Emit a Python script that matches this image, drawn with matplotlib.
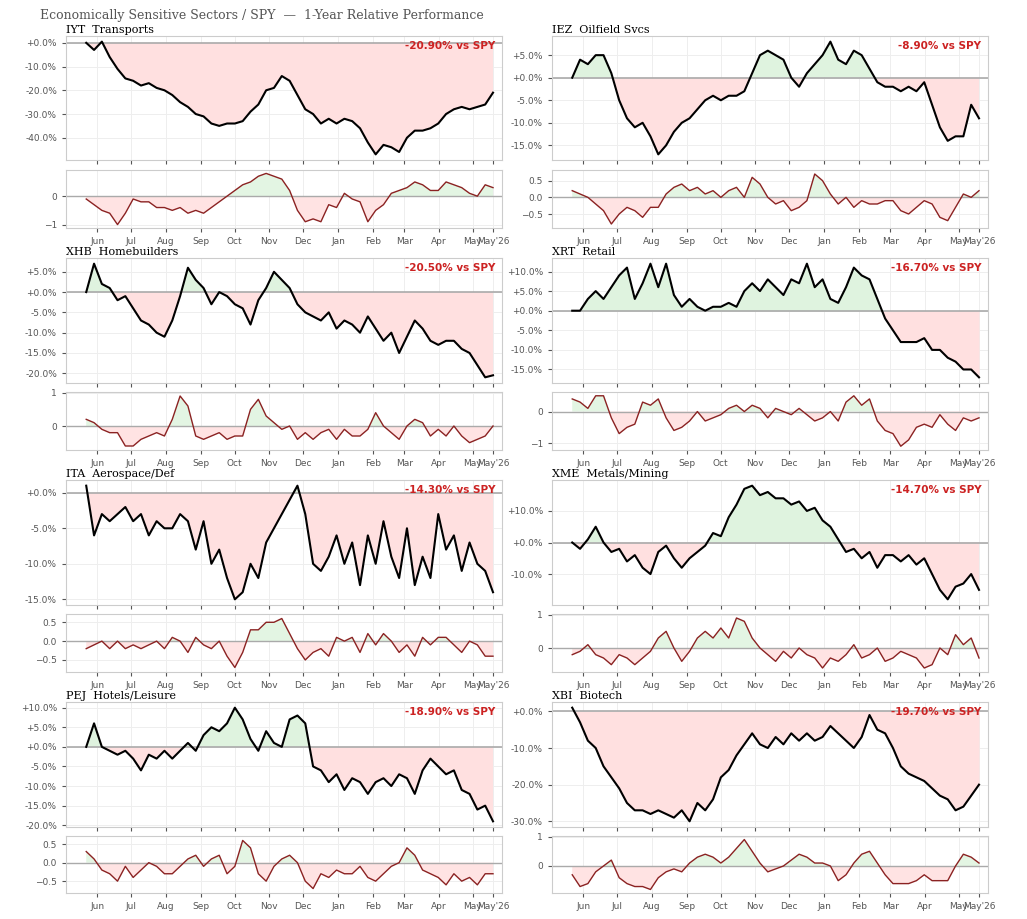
import numpy as np
import pandas as pd
import matplotlib
matplotlib.use('Agg')
import matplotlib.pyplot as plt
from matplotlib.ticker import FuncFormatter, MultipleLocator

dates = pd.date_range('2025-05-22', '2026-05-19', periods=53)

tickers = ['IYT', 'IEZ', 'XHB', 'XRT', 'ITA', 'XME', 'PEJ', 'XBI']
names = ['Transports', 'Oilfield Svcs', 'Homebuilders', 'Retail',
         'Aerospace/Def', 'Metals/Mining', 'Hotels/Leisure', 'Biotech']
final_rel = [-20.9, -8.9, -20.5, -16.7, -14.3, -14.7, -18.9, -19.7]

iyt = [0, -3, 0.5, -6, -11, -15, -16, -18, -17, -19, -20, -22, -25, -27, -30, -31, -34, -35, -34, -34,
       -33, -29, -26, -20, -19, -14, -16, -22, -28, -30, -34, -32, -34, -32, -33, -36, -42, -47, -43, -44,
       -46, -40, -37, -37, -36, -34, -30, -28, -27, -28, -27, -26, -21]
iez = [0, 4, 3, 5, 5, 1, -5, -9, -11, -10, -13, -17, -15, -12, -10, -9, -7, -5, -4, -5,
       -4, -4, -3, 1, 5, 6, 5, 4, 0, -2, 1, 3, 5, 8, 4, 3, 6, 5, 2, -1,
       -2, -2, -3, -2, -3, -1, -6, -11, -14, -13, -13, -6, -9]
xhb = [0, 7, 2, 1, -2, -1, -4, -7, -8, -10, -11, -7, -1, 6, 3, 1, -3, 0, -1, -3,
       -4, -8, -2, 1, 5, 3, 1, -3, -5, -6, -7, -5, -9, -7, -8, -10, -6, -9, -12, -10,
       -15, -11, -7, -9, -12, -13, -12, -12, -14, -15, -18, -21, -20.5]
xrt = [0, 0, 3, 5, 3, 6, 9, 11, 3, 7, 12, 6, 12, 4, 1, 3, 1, 0, 1, 1,
       2, 1, 5, 7, 5, 8, 6, 4, 8, 7, 12, 6, 8, 3, 2, 6, 11, 9, 8, 3,
       -2, -5, -8, -8, -8, -7, -10, -10, -12, -13, -15, -15, -17]
ita = [1, -6, -3, -4, -3, -2, -4, -3, -6, -4, -5, -5, -3, -4, -8, -4, -10, -8, -12, -15,
       -14, -10, -12, -7, -5, -3, -1, 1, -3, -10, -11, -9, -6, -10, -7, -13, -6, -10, -4, -9,
       -12, -5, -13, -9, -12, -3, -8, -6, -11, -7, -10, -11, -14]
xme = [0, -2, 1, 5, 0, -3, -2, -6, -4, -8, -10, -3, -1, -5, -8, -5, -3, -1, 3, 2,
       8, 12, 17, 18, 15, 16, 14, 14, 12, 13, 10, 11, 7, 5, 1, -3, -2, -5, -3, -8,
       -4, -4, -6, -4, -7, -5, -10, -15, -18, -14, -13, -10, -15]
pej = [0, 6, 0, -1, -2, -1, -3, -6, -2, -3, -1, -3, -1, 1, -1, 3, 5, 4, 6, 10,
       7, 2, -1, 4, 1, 0, 7, 8, 6, -5, -6, -9, -7, -11, -8, -9, -12, -9, -8, -10,
       -7, -8, -12, -6, -3, -5, -7, -6, -11, -12, -16, -15, -19]
xbi = [1, -3, -8, -10, -15, -18, -21, -25, -27, -27, -28, -27, -28, -29, -27, -30, -25, -27, -24, -18,
       -16, -12, -9, -6, -9, -10, -7, -9, -6, -8, -6, -8, -7, -4, -6, -8, -10, -7, -1, -5,
       -6, -10, -15, -17, -18, -19, -21, -23, -24, -27, -26, -23, -20]

iyt_osc = [-0.1, -0.3, -0.5, -0.6, -1.0, -0.6, -0.1, -0.2, -0.2, -0.4, -0.4, -0.5, -0.4, -0.6, -0.5, -0.6, -0.4, -0.2, 0.0, 0.2,
           0.4, 0.5, 0.7, 0.8, 0.7, 0.6, 0.2, -0.5, -0.9, -0.8, -0.9, -0.3, -0.4, 0.1, -0.1, -0.2, -0.9, -0.5, -0.3, 0.1,
           0.2, 0.3, 0.5, 0.4, 0.2, 0.2, 0.5, 0.4, 0.3, 0.1, 0.0, 0.4, 0.3]
iez_osc = [0.2, 0.1, 0.0, -0.2, -0.4, -0.8, -0.5, -0.3, -0.4, -0.6, -0.3, -0.3, 0.1, 0.3, 0.4, 0.2, 0.3, 0.1, 0.2, 0.0,
           0.2, 0.3, 0.0, 0.6, 0.4, 0.0, -0.2, -0.1, -0.4, -0.3, -0.1, 0.7, 0.5, 0.1, -0.2, 0.0, -0.3, -0.1, -0.2, -0.2,
           -0.1, -0.1, -0.4, -0.5, -0.3, -0.1, -0.2, -0.6, -0.7, -0.3, 0.1, 0.0, 0.2]
xhb_osc = [0.2, 0.1, -0.1, -0.2, -0.2, -0.6, -0.6, -0.4, -0.3, -0.2, -0.3, 0.2, 0.9, 0.6, -0.3, -0.4, -0.3, -0.2, -0.4, -0.3,
           -0.3, 0.5, 0.8, 0.3, 0.1, -0.1, 0.0, -0.4, -0.2, -0.4, -0.2, -0.1, -0.4, -0.1, -0.3, -0.3, -0.1, 0.4, 0.0, -0.2,
           -0.4, 0.0, 0.2, 0.1, -0.3, -0.1, -0.3, 0.0, -0.3, -0.5, -0.4, -0.3, 0.0]
xrt_osc = [0.4, 0.3, 0.1, 0.5, 0.5, -0.2, -0.7, -0.5, -0.4, 0.3, 0.2, 0.4, -0.2, -0.6, -0.5, -0.3, 0.0, -0.3, -0.2, -0.1,
           0.1, 0.2, 0.0, 0.2, 0.1, -0.2, 0.1, 0.0, -0.1, 0.1, -0.1, -0.3, -0.2, 0.0, -0.3, 0.3, 0.5, 0.2, 0.4, -0.3,
           -0.6, -0.7, -1.1, -0.9, -0.5, -0.4, -0.5, -0.1, -0.4, -0.6, -0.2, -0.3, -0.2]
ita_osc = [-0.2, -0.1, 0.0, -0.2, 0.0, -0.2, -0.1, -0.2, -0.1, 0.0, -0.2, 0.1, 0.0, -0.3, 0.1, -0.1, -0.2, 0.0, -0.4, -0.7,
           -0.3, 0.3, 0.3, 0.5, 0.5, 0.6, 0.2, -0.2, -0.5, -0.3, -0.2, -0.4, 0.1, 0.0, 0.1, -0.3, 0.2, -0.1, 0.2, 0.0,
           -0.3, -0.1, -0.4, 0.1, -0.1, 0.1, 0.1, -0.1, -0.3, 0.0, -0.1, -0.4, -0.4]
xme_osc = [-0.2, -0.1, 0.1, -0.2, -0.3, -0.5, -0.2, -0.3, -0.5, -0.3, -0.1, 0.3, 0.5, 0.0, -0.4, -0.1, 0.3, 0.5, 0.3, 0.6,
           0.3, 0.9, 0.8, 0.3, 0.0, -0.2, -0.4, -0.1, -0.3, 0.0, -0.2, -0.3, -0.6, -0.3, -0.4, -0.2, 0.1, -0.3, -0.2, 0.0,
           -0.4, -0.3, -0.1, -0.2, -0.3, -0.6, -0.5, 0.0, -0.2, 0.4, 0.1, 0.3, -0.3]
pej_osc = [0.3, 0.1, -0.2, -0.3, -0.5, -0.1, -0.4, -0.2, 0.0, -0.1, -0.3, -0.3, -0.1, 0.1, 0.2, -0.1, 0.1, 0.2, -0.3, -0.1,
           0.6, 0.4, -0.3, -0.5, -0.1, 0.1, 0.2, 0.0, -0.5, -0.7, -0.3, -0.4, -0.2, -0.3, -0.3, -0.1, -0.4, -0.5, -0.3, -0.1,
           0.0, 0.4, 0.2, -0.2, -0.3, -0.4, -0.6, -0.3, -0.5, -0.4, -0.6, -0.3, -0.3]
xbi_osc = [-0.3, -0.7, -0.6, -0.2, 0.0, 0.2, -0.4, -0.6, -0.7, -0.7, -0.8, -0.4, -0.2, -0.1, -0.2, 0.1, 0.3, 0.4, 0.3, 0.1,
           0.3, 0.6, 0.9, 0.5, 0.1, -0.2, -0.1, 0.0, 0.2, 0.4, 0.3, 0.1, 0.1, 0.0, -0.5, -0.3, 0.1, 0.4, 0.5, 0.1,
           -0.3, -0.6, -0.6, -0.6, -0.5, -0.3, -0.5, -0.5, -0.5, 0.0, 0.4, 0.3, 0.1]

rel_series = [iyt, iez, xhb, xrt, ita, xme, pej, xbi]
osc_series = [iyt_osc, iez_osc, xhb_osc, xrt_osc, ita_osc, xme_osc, pej_osc, xbi_osc]
# tick steps seen in the reference
rel_step = [10, 5, 5, 5, 5, 10, 5, 10]
osc_step = [1, 0.5, 1, 1, 0.5, 1, 0.5, 1]

W, H = 1027, 919
fig = plt.figure(figsize=(W / 100, H / 100), dpi=100)
fig.text(40 / W, 1 - 16 / H, 'Economically Sensitive Sectors / SPY  \u2014  1-Year Relative Performance',
         family='DejaVu Serif', fontsize=9, color='#555555', va='center')

col_x = [(66, 502), (552, 988)]
row_y = [(36, 160, 170, 228), (258, 383, 392, 450), (480, 605, 614, 672), (702, 827, 836, 893)]

month_ticks = pd.date_range('2025-06-01', '2026-05-01', freq='MS')
xt = list(month_ticks) + [dates[-1]]
xl = [d.strftime('%b') for d in month_ticks] + ["May'26"]
pct_fmt = FuncFormatter(lambda v, p: f'{v:+.1f}%')


def style(ax):
    ax.set_facecolor('white')
    for s in ax.spines.values():
        s.set_color('#cccccc')
    ax.grid(True, color='#eeeeee', lw=0.7)
    ax.set_axisbelow(True)
    ax.tick_params(labelsize=6.5, colors='#555555', length=3)
    ax.set_xlim(dates[0] - pd.Timedelta(days=18), dates[-1] + pd.Timedelta(days=8))
    ax.set_xticks(xt)


for i in range(8):
    r, c = divmod(i, 2)
    x0, x1 = col_x[c]
    mt, mb, st, sb = row_y[r]
    ax = fig.add_axes([x0 / W, 1 - mb / H, (x1 - x0) / W, (mb - mt) / H])
    sx = fig.add_axes([x0 / W, 1 - sb / H, (x1 - x0) / W, (sb - st) / H])
    y = np.array(rel_series[i], dtype=float)
    o = np.array(osc_series[i], dtype=float)

    style(ax)
    ax.fill_between(dates, y, 0, where=y >= 0, interpolate=True, color='#dff3df', lw=0)
    ax.fill_between(dates, y, 0, where=y < 0, interpolate=True, color='#ffe0e0', lw=0)
    ax.axhline(0, color='#aaaaaa', lw=1.2)
    ax.plot(dates, y, color='black', lw=1.5)
    ax.yaxis.set_major_locator(MultipleLocator(rel_step[i]))
    ax.yaxis.set_major_formatter(pct_fmt)
    pad = (y.max() - y.min()) * 0.05
    ax.set_ylim(y.min() - pad, max(y.max(), 0) + pad)
    ax.set_xticklabels([])
    ax.set_title(f'{tickers[i]}  {names[i]}', loc='left', family='DejaVu Serif',
                 fontsize=8, pad=2)
    ax.text(0.985, 0.96, f'{final_rel[i]:.2f}% vs SPY', transform=ax.transAxes, ha='right',
            va='top', color='#cc2222', fontsize=7.5, fontweight='bold')

    style(sx)
    sx.fill_between(dates, o, 0, where=o >= 0, interpolate=True, color='#e3f5e3', lw=0)
    sx.fill_between(dates, o, 0, where=o < 0, interpolate=True, color='#ffe3e3', lw=0)
    sx.axhline(0, color='#aaaaaa', lw=1.0)
    sx.plot(dates, o, color='#8b2222', lw=1.0)
    sx.yaxis.set_major_locator(MultipleLocator(osc_step[i]))
    sx.set_xticklabels(xl)
    sx.set_ylim(o.min() - 0.12, o.max() + 0.12)

fig.savefig('out.png', dpi=100, facecolor='white')
